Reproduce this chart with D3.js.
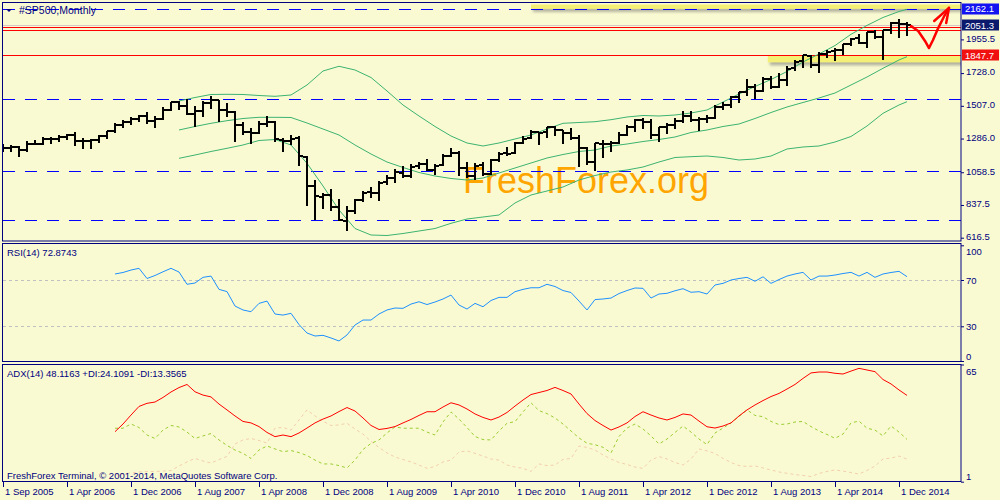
<!DOCTYPE html>
<html><head><meta charset="utf-8">
<script src="https://cdn.jsdelivr.net/npm/d3@7"></script>
<style>
html,body{margin:0;padding:0;background:#FAFAD2;}
svg{display:block;}
text{font-family:"Liberation Sans",Arial,sans-serif;}
</style></head><body>
<svg id="chart" width="1000" height="500"></svg>
<script>
// ---------------- DATA ----------------
const symbolTitle = "#SP500,Monthly";
const xTickBars = [0, 8, 16, 24, 32, 40, 48, 56, 64, 72, 80, 88, 96, 104, 112];
const xTickLabels = ["1 Sep 2005","1 Apr 2006","1 Dec 2006","1 Aug 2007","1 Apr 2008","1 Dec 2008","1 Aug 2009","1 Apr 2010","1 Dec 2010","1 Aug 2011","1 Apr 2012","1 Dec 2012","1 Aug 2013","1 Apr 2014","1 Dec 2014"];

const barOpen = [1234,1220,1229,1207,1249,1248,1280,1281,1295,1311,1270,1270,1279,1304,1336,1378,1401,1418,1438,1407,1421,1482,1531,1505,1455,1474,1527,1546,1480,1468,1379,1330,1326,1386,1400,1277,1269,1288,1164,969,889,903,823,730,794,873,923,921,990,1020,1055,1036,1099,1117,1074,1105,1171,1189,1087,1031,1108,1050,1143,1186,1187,1258,1289,1329,1329,1365,1345,1321,1293,1219,1131,1251,1247,1259,1312,1366,1408,1398,1311,1362,1379,1407,1441,1412,1416,1426,1498,1515,1569,1598,1632,1610,1689,1636,1681,1759,1807,1846,1783,1858,1874,1884,1924,1962,1930,2004,1971,2018,2066,2059];
const barHigh = [1246,1243,1233,1271,1276,1295,1298,1311,1318,1327,1291,1280,1307,1340,1389,1408,1432,1442,1462,1439,1498,1536,1541,1556,1504,1539,1576,1546,1524,1472,1396,1360,1404,1440,1404,1292,1313,1303,1167,1008,919,944,875,833,878,930,956,997,1039,1080,1101,1114,1130,1150,1112,1180,1220,1205,1131,1121,1129,1149,1196,1227,1263,1303,1344,1332,1365,1371,1345,1356,1307,1229,1257,1278,1269,1333,1378,1419,1422,1415,1363,1392,1427,1475,1471,1434,1448,1510,1531,1570,1598,1687,1654,1699,1710,1730,1775,1814,1849,1851,1868,1884,1897,1924,1968,1991,2005,2019,2018,2076,2094,2072];
const barLow = [1201,1205,1168,1201,1247,1246,1254,1268,1281,1245,1219,1225,1261,1291,1327,1361,1386,1404,1389,1364,1416,1477,1484,1454,1371,1439,1490,1406,1436,1270,1317,1257,1324,1373,1272,1200,1247,1106,840,741,816,804,735,667,783,866,889,869,979,992,1029,1029,1086,1072,1045,1105,1171,1041,1028,1011,1040,1050,1132,1173,1187,1258,1289,1249,1295,1312,1258,1283,1102,1114,1075,1159,1202,1259,1312,1340,1357,1292,1267,1325,1355,1397,1403,1343,1398,1426,1485,1501,1536,1581,1560,1605,1627,1633,1646,1746,1768,1770,1738,1834,1814,1860,1916,1931,1905,1964,1821,2001,1973,1988];
const barClose = [1220,1229,1207,1249,1248,1280,1281,1295,1311,1270,1270,1277,1304,1336,1378,1401,1418,1438,1407,1421,1482,1531,1503,1455,1474,1527,1549,1481,1468,1379,1331,1323,1386,1400,1280,1267,1283,1166,969,896,903,826,735,798,873,919,919,987,1021,1057,1036,1096,1115,1074,1104,1169,1187,1089,1031,1102,1049,1141,1183,1181,1258,1286,1327,1326,1364,1345,1321,1292,1219,1131,1253,1247,1258,1312,1366,1408,1398,1310,1362,1379,1407,1441,1412,1416,1426,1498,1515,1569,1598,1631,1606,1686,1633,1682,1757,1806,1848,1783,1859,1872,1884,1924,1960,1931,2003,1972,2018,2068,2059,2051.3];

// Bollinger bands (read at these bars)
const bbBars = [22,24,26,28,30,32,34,36,38,40,42,44,46,48,50,52,54,56,58,60,62,64,66,68,70,72,74,76,78,80,82,84,86,88,90,92,94,96,98,100,102,104,106,108,110,112,113];
const bbUpper = [1539.6,1563.2,1583.5,1584.8,1583.5,1576.7,1571.3,1580.1,1647.6,1742.1,1773.9,1748.9,1698.2,1607.1,1512.6,1438.3,1367.4,1303.2,1256.0,1235.7,1256.0,1283.0,1310.0,1350.5,1389.0,1394.4,1399.8,1413.3,1431.5,1441.7,1438.3,1445.0,1458.5,1478.8,1532.8,1586.8,1637.5,1684.7,1738.7,1802.9,1856.9,1914.0,1990.0,2050.0,2103.4,2143.9,2158.7];
const bbMiddle = [1343.8,1367.4,1389.0,1406.6,1421.4,1429.5,1429.5,1428.2,1391.0,1350.5,1310.0,1242.5,1181.7,1127.7,1090.6,1056.8,1033.2,1016.3,1006.1,1019.6,1053.4,1087.2,1120.9,1154.7,1178.3,1198.6,1208.7,1235.7,1249.2,1266.1,1279.6,1296.5,1326.9,1343.8,1367.4,1384.3,1421.4,1461.9,1499.1,1529.4,1559.8,1593.6,1647.6,1701.6,1760.4,1816.4,1838.7];
const bbLower = [1152.7,1174.9,1198.6,1220.2,1242.5,1272.9,1279.6,1242.5,1118.9,965.6,803.6,678.7,634.8,631.4,644.9,661.8,678.7,713.8,742.8,756.3,769.8,851.0,904.9,931.9,958.9,1006.1,1036.5,1060.2,1073.7,1093.9,1127.7,1158.1,1163.5,1168.2,1158.1,1141.2,1147.9,1168.2,1215.5,1229.0,1235.7,1262.7,1299.9,1370.8,1456.5,1512.6,1534.8];

// Oscillators: first value belongs to this bar
const oscFirstBar = 14;
const rsiValues = [75.2,76.5,78.6,80.1,71.3,73.9,77.1,80.1,76.9,66.3,
67.4,72.3,73.4,61.9,60.0,47.5,44.1,42.6,49.8,51.8,
40.6,39.7,41.2,31.5,24.2,21.6,22.2,19.9,17.3,22.5,
31.1,35.4,35.4,40.6,44.1,45.8,45.5,49.2,51.2,48.8,
51.0,53.6,57.0,48.4,44.9,49.8,46.9,52.3,55.0,55.0,
59.9,61.9,63.3,63.3,66.3,64.4,60.9,59.2,51.8,44.1,
53.1,53.6,54.4,58.3,60.9,63.1,62.8,54.4,57.9,58.5,
60.7,62.5,59.4,59.9,57.9,65.7,67.1,70.0,71.3,72.3,
68.9,72.8,67.1,70.4,73.4,75.2,76.6,70.0,73.4,73.4,
74.3,75.6,76.6,73.4,76.6,72.3,75.2,76.5,77.5,72.8743];
const adxMain = [28.3,32.5,37.4,42.1,43.8,44.5,47.0,50.0,52.4,54.1,
50.1,48.3,47.3,43.4,40.2,36.9,33.9,33.1,31.1,27.9,
25.6,26.5,25.6,27.6,30.3,33.1,35.2,36.9,39.3,41.5,
39.6,35.8,31.7,29.5,30.1,31.1,33.1,35.0,37.2,39.2,
39.2,41.8,44.1,42.9,40.7,38.0,36.1,34.7,36.3,38.8,
42.3,45.6,48.6,49.7,50.8,52.5,50.8,48.9,43.4,38.2,
34.4,31.7,29.2,30.9,33.1,36.6,39.2,37.4,35.8,34.7,
36.1,38.0,37.4,34.1,31.0,30.3,31.4,33.1,36.9,40.2,
42.9,45.3,47.5,49.2,51.6,54.1,57.4,60.4,60.9,60.9,
60.2,59.8,61.4,62.9,62.0,61.1,56.8,54.4,51.1,48.1163];
const adxPlusDI = [30.2,30.2,32.5,30.6,26.5,24.6,29.2,31.7,30.9,28.1,
24.6,26.0,27.3,23.8,20.8,18.3,16.5,13.7,18.3,20.5,
18.9,17.4,18.0,16.9,15.3,12.8,10.7,10.7,9.8,8.5,
12.8,18.6,21.9,23.8,27.6,30.9,30.2,30.2,30.2,28.1,
26.5,33.6,39.1,35.2,30.6,25.7,24.0,23.8,28.7,32.9,
33.8,39.1,44.1,39.8,38.2,35.8,32.5,28.7,24.9,22.0,
21.2,19.8,16.7,25.7,30.3,32.5,29.8,26.0,21.6,24.3,
27.9,31.4,28.1,24.3,21.3,27.6,30.3,33.1,36.6,40.2,
37.2,36.5,33.9,32.2,32.5,33.6,33.9,31.1,28.7,26.8,
24.7,27.0,33.1,34.1,30.2,29.2,26.0,31.4,28.1,24.1091];
const adxMinusDI = [4.7,5.2,5.8,6.3,6.6,6.6,6.8,7.1,9.6,11.8,
13.7,12.3,11.2,13.1,14.8,21.6,23.8,24.6,23.5,22.1,
30.3,30.6,29.2,34.7,40.2,36.9,34.1,31.7,32.0,32.9,
29.8,27.0,23.0,19.7,16.7,14.5,13.1,11.8,10.1,8.3,
9.3,11.8,12.8,17.2,17.8,16.5,15.0,13.4,12.8,10.1,
9.0,8.3,6.6,10.7,9.8,10.1,13.2,13.7,20.5,19.7,
18.3,15.6,13.4,11.5,10.4,9.0,8.3,12.8,14.7,13.4,
11.5,10.1,13.4,18.9,17.8,16.4,13.7,11.5,9.8,9.3,
9.6,8.5,7.4,6.3,5.6,4.9,4.4,3.8,5.5,6.6,
7.4,6.8,6.0,5.2,7.1,9.6,13.4,13.9,15.0,13.3565];

// Price axis tick labels and chart objects
const priceTicks = [1955.5, 1728.0, 1507.0, 1286.0, 1058.5, 837.5, 616.5];
const blueLevels = [2162.1, 1549.7, 1070.3, 739.4];
const redLevels = [2037.2, 2018.9, 1847.7];
const bidPrice = 2051.3;
const labelTarget = 2162.1, labelSupport = 1847.7;
const zoneBars = [[66, 125], [95.6, 125]];
const zonePrices = [[2191, 2162.1], [1847.7, 1801]];
const arrowBars = [113.5, 114.4, 115.25, 115.75, 116.25, 116.9, 117.6, 118.25];
const arrowPrices = [2046, 2012, 1945, 1897, 1951, 2032, 2107, 2168];
const arrowHeadBars = [116.4, 118.25, 117.9];
const arrowHeadPrices = [2080, 2168, 2066];
const rsiLevels = [70, 30];
const rsiTicks = [100, 70, 30, 0];
const adxTicks = [65, 1];
const watermark = "FreshForex.org";
const copyright = "FreshForex Terminal, \u00A9 2001-2014, MetaQuotes Software Corp.";

// ---------------- DRAW ----------------
const NAVY = "#000080";
const svg = d3.select("#chart");
const defs = svg.append("defs");
defs.append("clipPath").attr("id","clipMain").append("rect").attr("x",3).attr("y",3).attr("width",958).attr("height",238);
defs.append("clipPath").attr("id","clipRsi").append("rect").attr("x",3).attr("y",244).attr("width",958).attr("height",117);
defs.append("clipPath").attr("id","clipAdx").append("rect").attr("x",3).attr("y",365).attr("width",958).attr("height",116);
const f = defs.append("filter").attr("id","shadow").attr("x","-5%").attr("y","-60%").attr("width","115%").attr("height","320%");
f.append("feDropShadow").attr("dx",2).attr("dy",3).attr("stdDeviation",1.6).attr("flood-color","#707070").attr("flood-opacity",0.55);

const x = d3.scaleLinear().domain([0, 113]).range([3, 907]);
const yMain = d3.scaleLinear().domain([594.3, 2208]).range([241, 2]);
const yRsi = d3.scaleLinear().domain([0, 100]).range([361, 245.3]);
const yAdx = d3.scaleLinear().domain([1, 65]).range([481.7, 364.5]);

// ---- main panel
const gm = svg.append("g").attr("clip-path","url(#clipMain)");
gm.append("text").attr("x",463).attr("y",193).attr("font-size",36).attr("fill","#FFA500").text(watermark);

// zones
zoneBars.forEach((b,k)=>{
  gm.append("rect").attr("x",x(b[0])).attr("y",yMain(zonePrices[k][0]))
    .attr("width",x(b[1])-x(b[0])).attr("height",yMain(zonePrices[k][1])-yMain(zonePrices[k][0]))
    .attr("fill","#F4EF74").attr("filter","url(#shadow)");
});

// bid line
gm.append("line").attr("x1",2).attr("x2",961).attr("y1",Math.round(yMain(bidPrice))+0.5).attr("y2",Math.round(yMain(bidPrice))+0.5)
  .attr("stroke","#D9C4C4").attr("stroke-width",1);
// levels
blueLevels.forEach(v=>{
  const yy = Math.round(yMain(v))+0.5;
  gm.append("line").attr("x1",3).attr("x2",961).attr("y1",yy).attr("y2",yy)
    .attr("stroke","#0000FF").attr("stroke-width",1).attr("stroke-dasharray","12,10");
});
redLevels.forEach(v=>{
  const yy = Math.round(yMain(v))+0.5;
  gm.append("line").attr("x1",3).attr("x2",961).attr("y1",yy).attr("y2",yy)
    .attr("stroke","#FF0000").attr("stroke-width",1);
});

// Bollinger bands
const bbLine = arr => d3.line().x((d,i)=>x(bbBars[i])).y(d=>yMain(d))(arr);
[bbUpper, bbMiddle, bbLower].forEach(arr=>{
  gm.append("path").attr("d",bbLine(arr)).attr("fill","none").attr("stroke","#3CB371").attr("stroke-width",1);
});

// OHLC bars
const bars = gm.append("g").attr("stroke","#000").attr("stroke-width",2).attr("shape-rendering","crispEdges");
barOpen.forEach((o,i)=>{
  const cx = x(i);
  bars.append("line").attr("x1",cx).attr("x2",cx).attr("y1",Math.round(yMain(barHigh[i]))).attr("y2",Math.round(yMain(barLow[i]))+1);
  const yo = Math.round(yMain(o)), yc = Math.round(yMain(barClose[i]));
  bars.append("line").attr("x1",cx-4).attr("x2",cx).attr("y1",yo).attr("y2",yo);
  bars.append("line").attr("x1",cx).attr("x2",cx+4).attr("y1",yc).attr("y2",yc);
});

// red hand-drawn arrow
const arrowLine = d3.line().x((d,i)=>x(arrowBars[i])).y(d=>yMain(d));
gm.append("path").attr("d",arrowLine(arrowPrices)).attr("fill","none").attr("stroke","#FF0000").attr("stroke-width",2.5).attr("stroke-linejoin","round").attr("stroke-linecap","round");
const headLine = d3.line().x((d,i)=>x(arrowHeadBars[i])).y(d=>yMain(d));
gm.append("path").attr("d",headLine(arrowHeadPrices)).attr("fill","none").attr("stroke","#FF0000").attr("stroke-width",2.5).attr("stroke-linejoin","round").attr("stroke-linecap","round");

// title
svg.append("path").attr("d","M6,9 L12,9 L9,12 Z").attr("fill",NAVY);
svg.append("text").attr("x",19).attr("y",13.5).attr("font-size",10.5).attr("fill",NAVY).text(symbolTitle);

// ---- RSI panel
const gr = svg.append("g").attr("clip-path","url(#clipRsi)");
rsiLevels.forEach(v=>{
  const yy = Math.round(yRsi(v))+0.5;
  gr.append("line").attr("x1",3).attr("x2",961).attr("y1",yy).attr("y2",yy).attr("stroke","#C0C0C0").attr("stroke-dasharray","3,3");
});
gr.append("path").attr("d", d3.line().x((d,i)=>x(oscFirstBar+i)).y(d=>yRsi(d))(rsiValues))
  .attr("fill","none").attr("stroke","#1E90FF").attr("stroke-width",1);
svg.append("text").attr("x",7).attr("y",256).attr("font-size",9.5).attr("fill",NAVY)
  .text("RSI(14) " + rsiValues[rsiValues.length-1].toFixed(4));

// ---- ADX panel
const ga = svg.append("g").attr("clip-path","url(#clipAdx)");
const oscLine = (arr, sc) => d3.line().x((d,i)=>x(oscFirstBar+i)).y(d=>sc(d))(arr);
ga.append("path").attr("d",oscLine(adxMinusDI,yAdx)).attr("fill","none").attr("stroke","#F2CFAE").attr("stroke-width",1).attr("stroke-dasharray","3,3");
ga.append("path").attr("d",oscLine(adxPlusDI,yAdx)).attr("fill","none").attr("stroke","#9ACD32").attr("stroke-width",1).attr("stroke-dasharray","3,3");
ga.append("path").attr("d",oscLine(adxMain,yAdx)).attr("fill","none").attr("stroke","#FF0000").attr("stroke-width",1);
const L = adxMain.length-1;
svg.append("text").attr("x",7).attr("y",377).attr("font-size",9.5).attr("fill",NAVY)
  .text("ADX(14) " + adxMain[L].toFixed(4) + " +DI:" + adxPlusDI[L].toFixed(4) + " -DI:" + adxMinusDI[L].toFixed(4));
svg.append("text").attr("x",7).attr("y",478.5).attr("font-size",9.5).attr("fill",NAVY).text(copyright);

// ---- frames
[[2.5,2.5,958.5,238.5],[2.5,243.5,958.5,118],[2.5,364.5,958.5,117]].forEach(r=>{
  svg.append("rect").attr("x",r[0]).attr("y",r[1]).attr("width",r[2]).attr("height",r[3])
    .attr("fill","none").attr("stroke",NAVY).attr("stroke-width",1);
});

// ---- axes
const axMain = svg.append("g").attr("transform","translate(961,0)")
  .call(d3.axisRight(yMain).tickValues(priceTicks).tickFormat(d3.format(".1f")).tickSize(3).tickPadding(2));
const styleAxis = g => { g.select(".domain").remove(); g.selectAll("line").attr("stroke",NAVY);
  g.selectAll("text").attr("fill",NAVY).attr("font-size",9.5).attr("font-family","Liberation Sans, Arial, sans-serif"); };
styleAxis(axMain);
axMain.selectAll("text").attr("dy","0.2em");

const axRsi = svg.append("g").attr("transform","translate(961,0)")
  .call(d3.axisRight(yRsi).tickValues(rsiTicks).tickSize(3).tickPadding(2));
styleAxis(axRsi);
axRsi.selectAll("text").attr("dy", d => d===100 ? "1.0em" : (d===0 ? "-0.2em" : "0.35em"));

const axAdx = svg.append("g").attr("transform","translate(961,0)")
  .call(d3.axisRight(yAdx).tickValues(adxTicks).tickSize(3).tickPadding(2));
styleAxis(axAdx);
axAdx.selectAll("text").attr("dy", d => d===65 ? "1.05em" : "-0.25em");

// price label boxes
const boxes = [[labelTarget,"#1414F0"],[bidPrice,"#0C1A6E"],[labelSupport,"#F01010"]];
boxes.forEach(b=>{
  const yy = yMain(b[0]);
  svg.append("rect").attr("x",962).attr("y",Math.round(yy)-5.5).attr("width",37).attr("height",11).attr("fill",b[1]);
  svg.append("text").attr("x",965).attr("y",yy).attr("dy","0.35em").attr("font-size",9.5).attr("fill","#FFFFFF").text(b[0].toFixed(1));
});

// x axis
const xa = svg.append("g");
xTickBars.forEach((b,k)=>{
  const xx = Math.round(x(b))+0.5;
  xa.append("line").attr("x1",xx).attr("x2",xx).attr("y1",482).attr("y2",487).attr("stroke",NAVY);
  xa.append("text").attr("x",xx+1.5).attr("y",495).attr("font-size",9.5).attr("fill",NAVY).text(xTickLabels[k]);
});
</script>
</body></html>
